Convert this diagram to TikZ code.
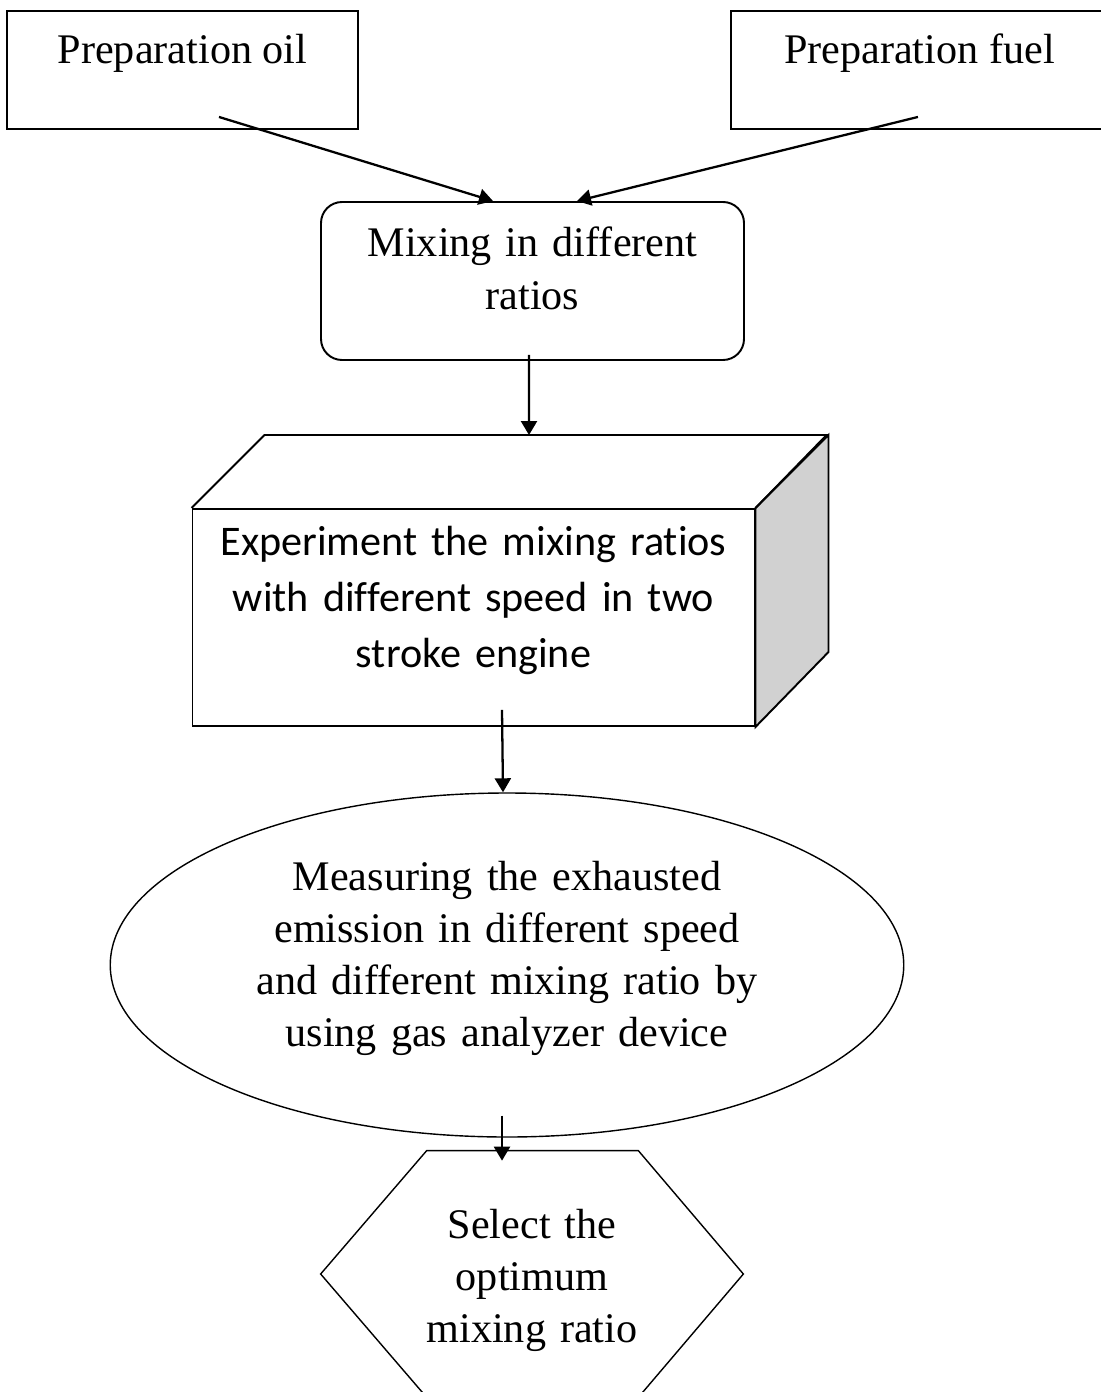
\documentclass[tikz,border=0pt]{standalone}
\usepackage{fontspec}
\setmainfont{Liberation Serif}
\newfontfamily\enginefont[Ligatures=NoCommon]{Carlito}
\usetikzlibrary{arrows.meta,positioning,shapes.geometric}

\begin{document}
\begin{tikzpicture}[>={Triangle[length=0.28cm,width=0.32cm]},
    font=\fontsize{24}{29.6}\selectfont,
    prepbox/.style = {draw, line width=1.1pt, inner sep=0pt, text height=1.06cm, text depth=1.30cm},
    mixbox/.style = {draw, line width=1.1pt, rounded corners=0.42cm, inner sep=0pt, minimum width=8.46cm, text width=7.6cm, align=center, text height=1.10cm, text depth=2.06cm},
    frontface/.style = {draw, line width=1.1pt, inner sep=0pt, minimum width=11.24cm, text width=10.6cm, align=center, text height=0.92cm, text depth=3.42cm, font=\enginefont\fontsize{24}{31.9}\selectfont},
    measure/.style = {draw, ellipse, line width=0.8pt, inner sep=0pt, minimum width=15.87cm, minimum height=6.88cm, text width=10.4cm, align=center, text height=0.4cm, text depth=3.4cm},
    selectbox/.style = {inner sep=0pt, minimum width=8.44cm, minimum height=4.92cm, text width=5cm, align=center, text height=0.4cm, text depth=1.84cm},
    flow/.style = {->, line width=1.3pt}]
    \useasboundingbox (0,0) rectangle (22,-27.84);

    \node[prepbox, minimum width=7.02cm] (oil) at (3.65,-1.40) {Preparation oil};
    \node[prepbox, minimum width=7.54cm] (fuel) [right=7.42cm of oil] {Preparation fuel};
    \node[mixbox] (mix) at (10.65,-5.62) {Mixing in different\\ ratios};
    \node[frontface] (cube) at (9.47,-12.35) {Experiment the mixing ratios\\ with different speed in two\\ stroke engine};
    \node[measure] (measure) at (10.14,-19.30) {Measuring the exhausted\\ emission in different speed\\ and different mixing ratio by\\ using gas analyzer device};
    \node[selectbox] (select) at (10.64,-25.48) {Select the\\ optimum\\ mixing ratio};

    \draw[line width=1.1pt, fill=black!18] (cube.north east) -- ++(1.46,1.46) -- ++(0,-4.34) -- (cube.south east) -- cycle;
    \draw[line width=1.1pt] (cube.north west) -- ++(1.46,1.46) -- ++(11.24,0) -- (cube.north east);
    \draw[line width=0.8pt] (select.west) -- ([xshift=2.12cm]select.north west) -- ([xshift=-2.10cm]select.north east) -- (select.east) -- ([xshift=-2.10cm]select.south east) -- ([xshift=2.12cm]select.south west) -- cycle;

    \draw[flow] ([xshift=0.73cm,yshift=0.26cm]oil.south) -- ([xshift=-0.79cm]mix.north);
    \draw[flow] ([xshift=-0.03cm,yshift=0.26cm]fuel.south) -- ([xshift=0.89cm]mix.north);
    \draw[flow] ([xshift=-0.07cm,yshift=0.12cm]mix.south) -- ([xshift=1.11cm,yshift=1.46cm]cube.north);
    \draw[flow] ([xshift=0.57cm,yshift=0.34cm]cube.south) -- ([xshift=-0.08cm]measure.north);
    \draw[flow] ([xshift=-0.10cm,yshift=0.44cm]measure.south) -- ([xshift=-0.60cm,yshift=-0.2cm]select.north);
  \end{tikzpicture}
\end{document}
